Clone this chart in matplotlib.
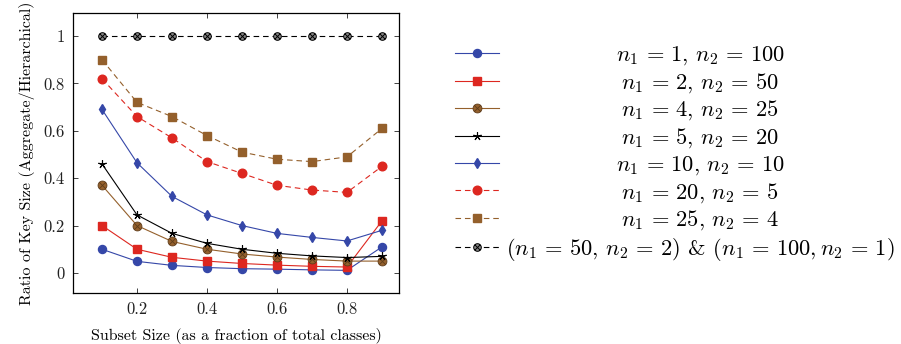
import matplotlib
matplotlib.use("Agg")
import matplotlib.pyplot as plt
from matplotlib.path import Path
from matplotlib.transforms import Affine2D
import numpy as np

plt.rcParams['font.family'] = ['cmr10', 'DejaVu Serif']
plt.rcParams['mathtext.fontset'] = 'cm'
plt.rcParams['axes.formatter.use_mathtext'] = True

# subset size (fraction of total classes)
subset = [0.1, 0.2, 0.3, 0.4, 0.5, 0.6, 0.7, 0.8, 0.9]

# ratio of key size, one list per (n1, n2) setting
r_1_100 = [0.10, 0.049, 0.032, 0.023, 0.018, 0.016, 0.013, 0.011, 0.11]
r_2_50 = [0.20, 0.10, 0.066, 0.05, 0.04, 0.033, 0.028, 0.025, 0.22]
r_4_25 = [0.37, 0.20, 0.133, 0.10, 0.08, 0.067, 0.057, 0.05, 0.05]
r_5_20 = [0.46, 0.245, 0.167, 0.125, 0.10, 0.083, 0.072, 0.065, 0.07]
r_10_10 = [0.69, 0.465, 0.323, 0.245, 0.20, 0.167, 0.15, 0.135, 0.18]
r_20_5 = [0.82, 0.66, 0.57, 0.47, 0.42, 0.37, 0.35, 0.34, 0.45]
r_25_4 = [0.90, 0.72, 0.66, 0.58, 0.51, 0.48, 0.47, 0.49, 0.61]
r_50_2 = [1, 1, 1, 1, 1, 1, 1, 1, 1]

eq = r'\,=\,'
labels = [rf'$n_1{eq}1$, $n_2{eq}100$',
          rf'$n_1{eq}2$, $n_2{eq}50$',
          rf'$n_1{eq}4$, $n_2{eq}25$',
          rf'$n_1{eq}5$, $n_2{eq}20$',
          rf'$n_1{eq}10$, $n_2{eq}10$',
          rf'$n_1{eq}20$, $n_2{eq}5$',
          rf'$n_1{eq}25$, $n_2{eq}4$',
          rf'$(n_1{eq}50$, $n_2{eq}2)$ & $(n_1{eq}100, n_2{eq}1)$']

yticks = [0, 0.2, 0.4, 0.6, 0.8, 1]
ytick_labels = ['0', '0.2', '0.4', '0.6', '0.8', '1']
xticks = [0.2, 0.4, 0.6, 0.8]

blue = '#3547a8'
red = '#dd2720'
brown = '#94602c'

# circle with a cross (otimes)
s = 0.7071
otimes = Path.make_compound_path(
    Path.unit_circle(),
    Path([[-s, -s], [s, s]], [Path.MOVETO, Path.LINETO]),
    Path([[-s, s], [s, -s]], [Path.MOVETO, Path.LINETO]))

dash = (0, (5, 3.5))
styles = [
    dict(color=blue, ls='-', marker='o', ms=5.8, mfc=blue, mec=blue),
    dict(color=red, ls='-', marker='s', ms=5.4, mfc=red, mec=red),
    dict(color=brown, ls='-', marker=otimes, ms=6.4, mfc=brown, mec='#5e3c1a', mew=0.6),
    dict(color='black', ls='-', marker=(5, 2, 0), ms=6, mfc='black', mec='black', mew=0.8),
    dict(color=blue, ls='-', marker='d', ms=5, mfc=blue, mec=blue),
    dict(color=red, ls=dash, marker='o', ms=6.2, mfc=red, mec=red),
    dict(color=brown, ls=dash, marker='s', ms=5.6, mfc=brown, mec=brown),
    dict(color='black', ls=dash, marker=otimes, ms=5.5, mfc='#888888', mec='black', mew=0.7),
]
series = [r_1_100, r_2_50, r_4_25, r_5_20, r_10_10, r_20_5, r_25_4, r_50_2]

fig = plt.figure(figsize=(9.01, 3.44), dpi=100)
ax = fig.add_axes([0.081, 0.148, 0.362, 0.814])

handles = []
for vals, st in zip(series, styles):
    h, = ax.plot(subset, vals, lw=0.8, **st)
    handles.append(h)

ax.set_xlim(0.017, 0.949)
ax.set_ylim(-0.085, 1.097)
ax.set_xticks(xticks)
ax.set_xticklabels([str(t) for t in xticks])
ax.set_yticks(yticks)
ax.set_yticklabels(ytick_labels)
ax.tick_params(direction='in', top=True, right=True, length=3.5, width=0.6,
               labelsize=12, pad=6, colors='#222222')
for sp in ax.spines.values():
    sp.set_linewidth(0.9)

ax.set_xlabel('Subset Size (as a fraction of total classes)', fontsize=11.5, labelpad=8)
ax.set_ylabel('Ratio of Key Size (Aggregate/Hierarchical)', fontsize=11.5, labelpad=6)

leg = fig.legend(handles, labels, loc='center', bbox_to_anchor=(0.749, 0.553),
                 frameon=False, fontsize=16.2, handlelength=1.95, handletextpad=0.3,
                 labelspacing=0.175)

# centre the legend labels in their column, like pgfplots does
fig.canvas.draw()
r = fig.canvas.get_renderer()
widths = [t.get_window_extent(r).width for t in leg.get_texts()]
wmax = max(widths)
for t, w in zip(leg.get_texts(), widths):
    t.set_transform(t.get_transform() + Affine2D().translate((wmax - w) / 2, 0))

fig.savefig('out.png', dpi=100)
